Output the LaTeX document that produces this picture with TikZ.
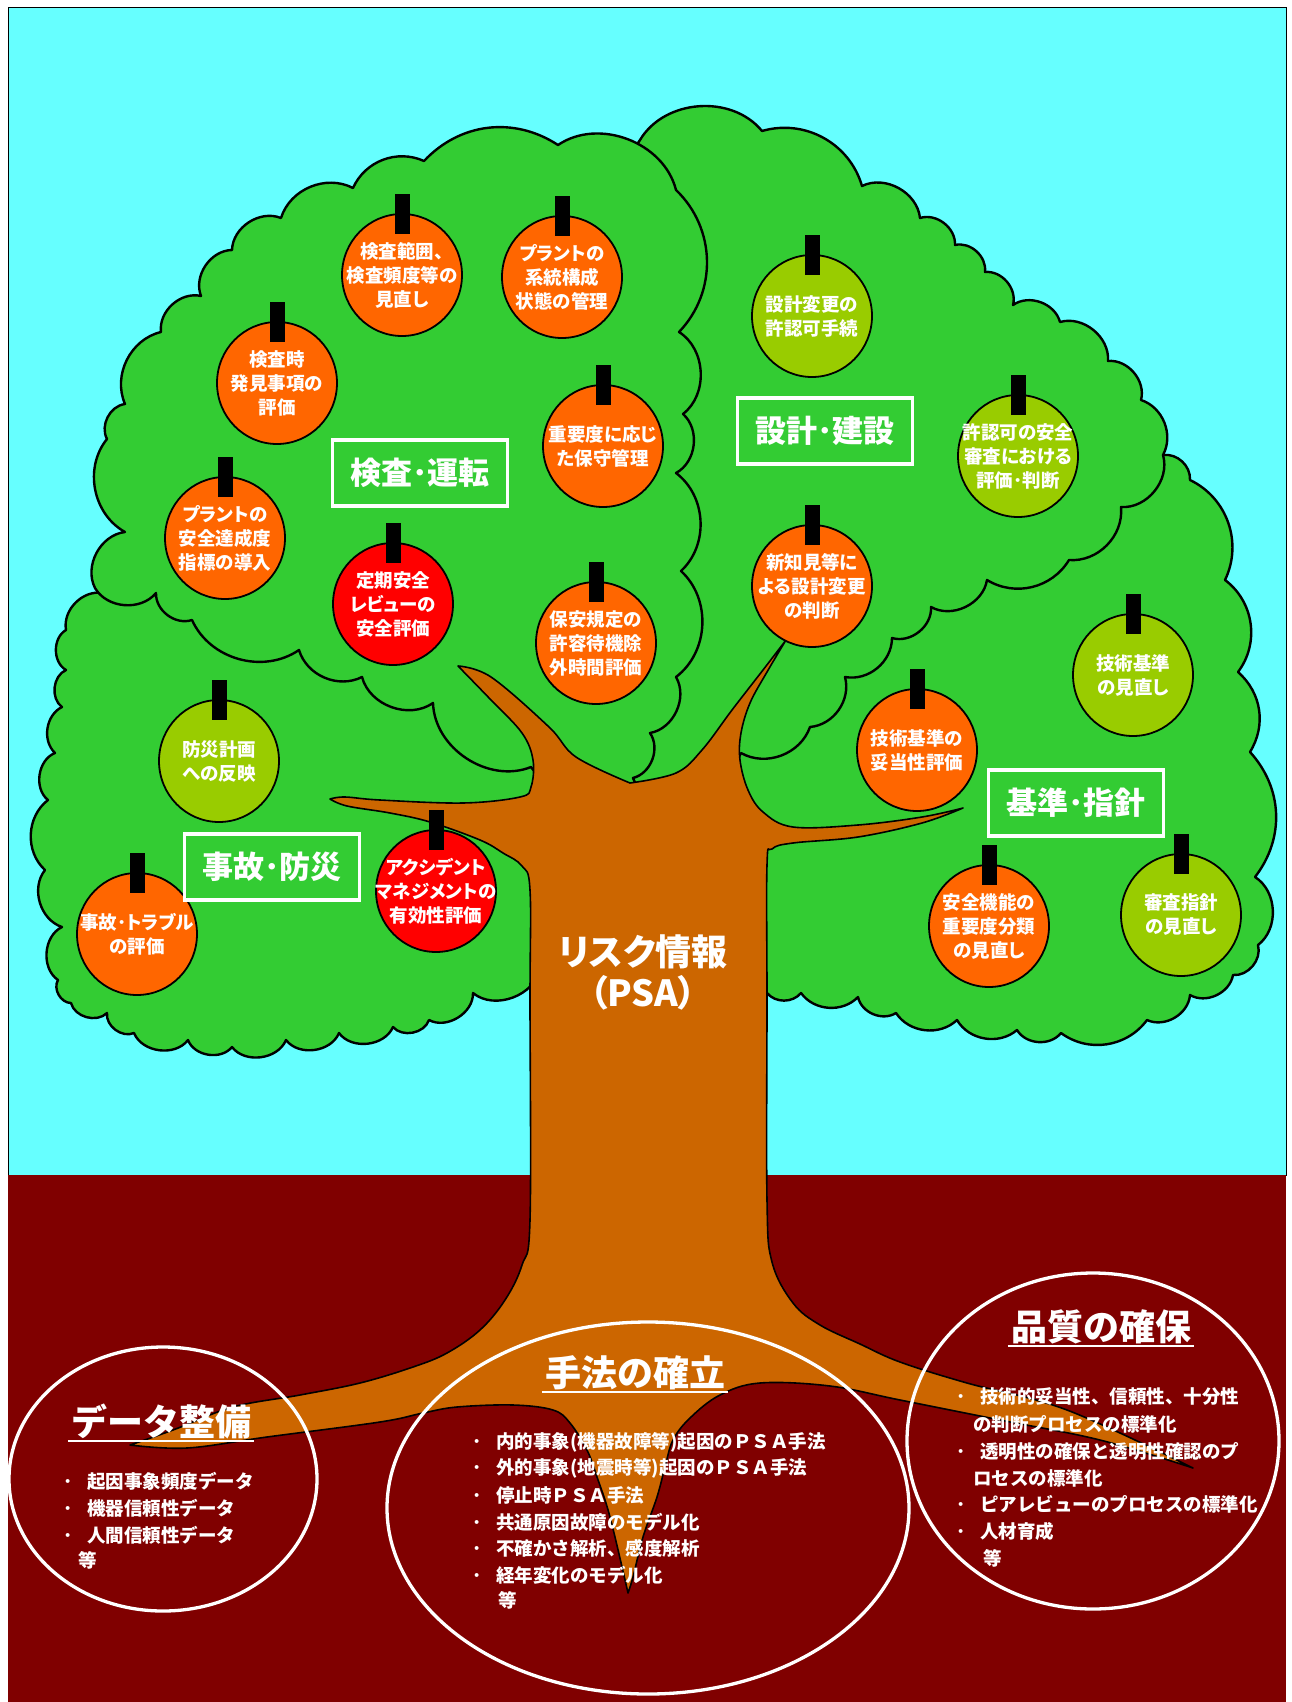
\documentclass[tikz,border=0pt]{standalone}
\usepackage{fontspec}
\setmainfont{Noto Sans CJK JP}
\newfontfamily\jpprop{Noto Sans CJK JP}[RawFeature=+palt]
\usetikzlibrary{shapes.geometric,calc}

\definecolor{skyc}{HTML}{66FFFF}
\definecolor{soilc}{HTML}{800000}
\definecolor{leafc}{HTML}{33CC33}
\definecolor{barkc}{HTML}{CC6600}
\definecolor{ripec}{HTML}{FF6600}
\definecolor{redc}{HTML}{FF0000}
\definecolor{youngc}{HTML}{99CC00}

% one fruit: name, x, y, colour, text
\newcommand\fruit[5]{%
  \node[fruitbody,fill=#4] (#1) at (#2,#3) {};
  \fill[black] ($(#1.north)+(-7.5,-19)$) rectangle ($(#1.north)+(7.5,21)$);
  \node[fruittext] (#1-t) at (#1.center) {#5};
}
% one scalloped lobe of the crown: start point, list of x/y/bend
\newcommand\lobe[2]{%
  \filldraw[crownline] #1 \foreach \px/\py/\pb in {#2} { to[bend left=\pb] (\px,\py) } -- cycle;
}
\newcommand\bul{\makebox[23.5pt][l]{･}}

\begin{document}
\begin{tikzpicture}[x=1pt,y=-1pt,
  crownline/.style={fill=leafc,draw=black,line width=2.4pt,line join=round},
  barkline/.style={fill=barkc,draw=black,line width=1.6pt,line join=round},
  fruitbody/.style={ellipse,draw=black,line width=1.8pt,minimum width=120pt,minimum height=122pt,inner sep=0pt},
  fruittext/.style={text=white,align=center,inner sep=0pt,font=\jpprop\fontsize{18.5}{24}\selectfont\bfseries},
  regionbox/.style={draw=white,line width=3.3pt,text=white,minimum width=175pt,minimum height=66pt,inner sep=0pt,font=\fontsize{31}{36}\selectfont\bfseries},
  trunktext/.style={text=white,inner sep=0pt,font=\jpprop\fontsize{36}{40}\selectfont\bfseries},
  groundring/.style={ellipse,draw=white,line width=3.3pt,inner sep=0pt},
  title/.style={text=white,inner sep=0pt,font=\fontsize{36}{40}\selectfont\bfseries},
  listline/.style={text=white,inner sep=0pt,anchor=west,font=\fontsize{18.5}{24}\selectfont\bfseries},
  underline/.style={draw=white,line width=2pt}
]
\useasboundingbox (0,0) rectangle (1292,1702);

% sky and soil
\filldraw[fill=skyc,draw=black,line width=0.8pt] (8,7) rectangle (1286,1175);
\fill[soilc] (8,1175) rectangle (1286,1702);

% crown: lower-left, lower-right, upper-right, upper-left lobes
\lobe{(103,593)}{160/565/0, 300/615/0, 430/670/0, 520/740/0, 560/800/0, 560/965/0, 540/968/0,
  473/993/60, 429/1020/60, 393/1027/60, 339/1033/60, 286/1040/60, 232/1047/60, 188/1040/60,
  134/1033/60, 107/1013/60, 71/1003/60, 58/980/60, 62/927/60, 45/870/55, 48/800/50, 55/753/60,
  62/707/55, 66/670/60, 66/630/60, 103/593/55}
\lobe{(1163,455)}{1190/480/50, 1225/580/45, 1238/672/45, 1250/752/40, 1255/877/40, 1258/945/55,
  1233/975/55, 1190/995/55, 1147/1020/55, 1061/1033/45, 1017/1030/55, 957/1020/50, 896/1013/50,
  858/997/55, 801/993/50, 767/993/50, 750/990/0, 750/853/0, 745/800/0, 735/750/0, 760/680/0,
  1000/520/0, 1130/460/0, 1163/455/0}
\lobe{(640,140)}{762/131/55, 862/186/45, 920/218/55, 955/245/55, 985/272/55, 1013/305/55,
  1060/322/55, 1108/361/55, 1141/400/55, 1163/455/50, 1121/507/55, 1069/560/50, 987/580/45,
  931/607/55, 892/638/55, 845/677/50, 810/727/50, 741/753/50, 720/795/0, 620/795/0, 620/170/0,
  640/140/0}
\lobe{(95,588)}{125/532/55, 107/439/50, 125/404/55, 161/332/50, 201/296/55, 232/250/55,
  281/218/55, 353/188/50, 424/161/45, 558/145/40, 676/190/55, 679/332/45, 683/414/55,
  676/473/55, 681/571/50, 676/677/50, 650/733/55, 633/778/55, 645/805/0, 560/805/0, 531/767/0,
  433/703/55, 362/677/55, 299/650/50, 192/620/50, 156/593/55, 95/588/55}

% trunk, branches and roots
\filldraw[barkline]
  plot[smooth,tension=0.6] coordinates {(458,666) (491,677) (549,727) (576,757) (630,783)}
  -- plot[smooth,tension=0.6] coordinates {(630,783) (676,773) (702,750) (732,710) (763,670) (786,640)}
  -- plot[smooth,tension=0.6] coordinates {(786,640) (767,672) (750,703) (741,733) (740,760) (748,790)
       (763,812) (793,827) (858,825) (922,817) (963,808)}
  -- plot[smooth,tension=0.6] coordinates {(963,808) (922,823) (858,837) (793,843) (772,849) (767,865)
       (767,1000) (767,1200) (772,1262) (793,1303) (820,1325) (860,1344) (900,1362) (967,1383)
       (1067,1410) (1193,1468)}
  -- plot[smooth,tension=0.6] coordinates {(1193,1468) (1100,1440) (1000,1420) (900,1400) (830,1386)
       (760,1383) (720,1395) (690,1418) (673,1440) (665,1467) (657,1497) (643,1537) (633,1577) (628,1593)}
  -- plot[smooth,tension=0.6] coordinates {(628,1593) (610,1517) (597,1477) (587,1450) (570,1423)
       (553,1410) (513,1405) (457,1407) (423,1413) (380,1422) (267,1437) (187,1448) (130,1445)}
  -- plot[smooth,tension=0.6] coordinates {(130,1445) (173,1430) (233,1407) (300,1395) (360,1383)
       (413,1367) (447,1353) (480,1330) (505,1300) (522,1265) (530,1220) (530,1000) (530,890)
       (522,866) (503,853) (480,840) (430,822) (390,813) (347,806) (330,799)}
  -- plot[smooth,tension=0.6] coordinates {(330,799) (345,797) (380,800) (463,803) (520,797)
       (531,787) (533,760) (522,733) (491,700) (458,666)}
  -- cycle;

% fruits
\fruit{f1}{402}{275}{ripec}{検査範囲、\\検査頻度等の\\見直し}
\fruit{f2}{562}{277}{ripec}{プラントの\\系統構成\\状態の管理}
\fruit{f3}{277}{383}{ripec}{検査時\\発見事項の\\評価}
\fruit{f4}{603}{446}{ripec}{重要度に応じ\\た保守管理}
\fruit{f5}{225}{538}{ripec}{プラントの\\安全達成度\\指標の導入}
\fruit{f6}{393}{604}{redc}{定期安全\\レビューの\\安全評価}
\fruit{f7}{596}{643}{ripec}{保安規定の\\許容待機除\\外時間評価}
\fruit{f8}{812}{316}{youngc}{設計変更の\\許認可手続}
\fruit{f9}{1018}{456}{youngc}{許認可の安全\\審査における\\評価･判断}
\fruit{f10}{812}{586}{ripec}{新知見等に\\よる設計変更\\の判断}
\fruit{f11}{1133}{675}{youngc}{技術基準\\の見直し}
\fruit{f12}{917}{750}{ripec}{技術基準の\\妥当性評価}
\fruit{f13}{219}{761}{youngc}{防災計画\\への反映}
\fruit{f14}{436}{891}{redc}{アクシデント\\マネジメントの\\有効性評価}
\fruit{f15}{137}{934}{ripec}{事故･トラブル\\の評価}
\fruit{f16}{989}{926}{ripec}{安全機能の\\重要度分類\\の見直し}
\fruit{f17}{1181}{915}{youngc}{審査指針\\の見直し}

% area labels in the crown
\node[regionbox] (r1) at (420,473) {検査･運転};
\node[regionbox] (r2) at (825,431) {設計･建設};
\node[regionbox] (r3) at (272,867) {事故･防災};
\node[regionbox] (r4) at (1076,803) {基準･指針};

% trunk label
\node[trunktext] (risk) at (643,952) {リスク情報};
\node[trunktext] (psa) at (643,993) {（PSA）};

% root groups
\node[groundring,minimum width=308pt,minimum height=264pt] (g1) at (163,1479) {};
\node[groundring,minimum width=522pt,minimum height=372pt] (g2) at (648,1508) {};
\node[groundring,minimum width=372pt,minimum height=336pt] (g3) at (1093,1441) {};

\node[title] (t1) at (161,1421) {データ整備};
\node[title] (t2) at (635,1373) {手法の確立};
\node[title] (t3) at (1101,1327) {品質の確保};
\foreach \t in {t1,t2,t3}
  \draw[underline] ($(\t.south west)+(-3,2)$) -- ($(\t.south east)+(3,2)$);

\node[listline] (a1) at (63.5,1481) {\bul 起因事象頻度データ};
\node[listline] (a2) at (63.5,1508) {\bul 機器信頼性データ};
\node[listline] (a3) at (63.5,1535) {\bul 人間信頼性データ};
\node[listline] (a4) at (78,1560) {等};

\node[listline] (b1) at (472.5,1442) {\bul 内的事象(機器故障等)起因のＰＳＡ手法};
\node[listline] (b2) at (472.5,1468) {\bul 外的事象(地震時等)起因のＰＳＡ手法};
\node[listline] (b3) at (472.5,1495) {\bul 停止時ＰＳＡ手法};
\node[listline] (b4) at (472.5,1522) {\bul 共通原因故障のモデル化};
\node[listline] (b5) at (472.5,1548) {\bul 不確かさ解析、感度解析};
\node[listline] (b6) at (472.5,1575) {\bul 経年変化のモデル化};
\node[listline] (b7) at (498,1600) {等};

\node[listline] (c1) at (956.5,1397) {\bul 技術的妥当性、信頼性、十分性};
\node[listline] (c2) at (973,1424) {の判断プロセスの標準化};
\node[listline] (c3) at (956.5,1451) {\bul 透明性の確保と透明性確認のプ};
\node[listline] (c4) at (973,1478) {ロセスの標準化};
\node[listline] (c5) at (956.5,1504) {\bul ピアレビューのプロセスの標準化};
\node[listline] (c6) at (956.5,1531) {\bul 人材育成};
\node[listline] (c7) at (983,1558) {等};
\end{tikzpicture}
\end{document}
